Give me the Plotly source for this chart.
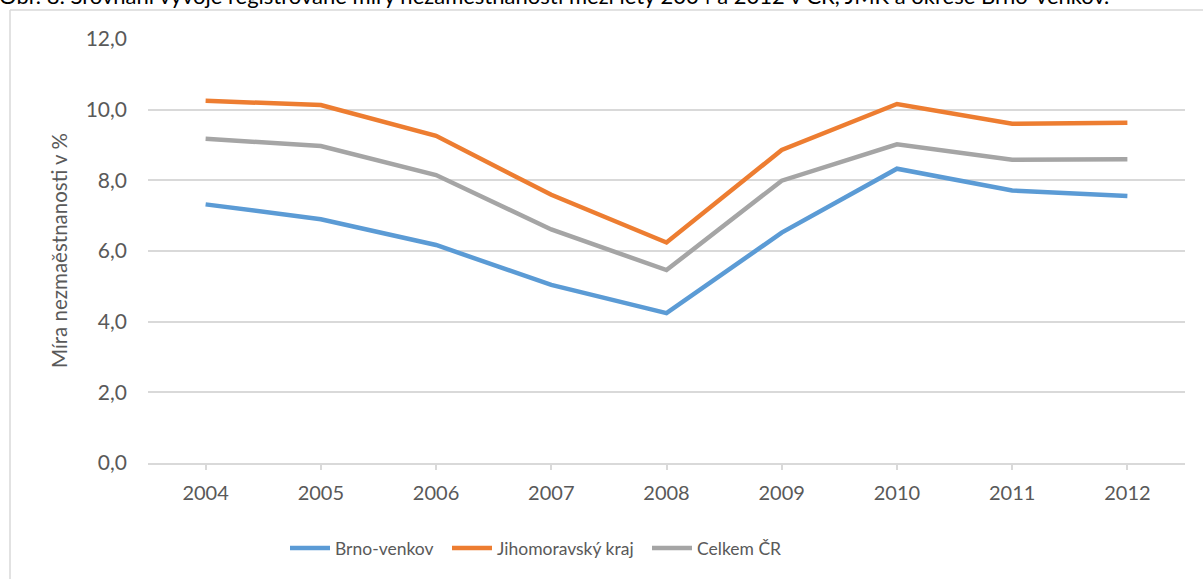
import plotly.graph_objects as go

years = ["2004", "2005", "2006", "2007", "2008", "2009", "2010", "2011", "2012"]
brno_venkov = [7.32, 6.90, 6.17, 5.04, 4.24, 6.52, 8.33, 7.71, 7.56]
jihomoravsky = [10.25, 10.13, 9.26, 7.59, 6.24, 8.86, 10.16, 9.60, 9.63]
celkem_cr = [9.18, 8.97, 8.15, 6.61, 5.46, 7.99, 9.02, 8.58, 8.60]

series_names = ["Brno-venkov", "Jihomoravský kraj", "Celkem ČR"]
colors = ["#5B9BD5", "#ED7D31", "#A5A5A5"]

title_text = ("Obr. 8: Srovnání vývoje registrované míry nezaměstnanosti mezi lety "
              "2004 a 2012 v ČR, JMK a okrese Brno-venkov.")
y_title = "Míra nezmaěstnanosti v %"

FONT = "Lato"
TXT = "#595959"
GRID = "#D9D9D9"

W, H = 1203, 579
L, R, T, B = 148, 18, 39, 116
pw, ph = W - L - R, H - T - B


def px_x(p):
    return (p - L) / pw


def px_y(p):
    return (H - B - p) / ph


legend_ids = ["legend", "legend2", "legend3"]
legend_x_px = [285, 447, 647]

fig = go.Figure()
for name, vals, col, lid in zip(series_names, [brno_venkov, jihomoravsky, celkem_cr],
                                colors, legend_ids):
    fig.add_trace(go.Scatter(x=years, y=vals, name=name, mode="lines",
                             line=dict(color=col, width=4.5), legend=lid))

legend_common = dict(orientation="h", y=px_y(548), xanchor="left", yanchor="middle",
                     font=dict(family=FONT, size=17.5, color=TXT), itemwidth=40,
                     bgcolor="rgba(0,0,0,0)")

fig.update_layout(
    width=W, height=H,
    margin=dict(l=L, r=R, t=T, b=B),
    paper_bgcolor="white", plot_bgcolor="white",
    separators=", ",
    font=dict(family=FONT, size=20, color=TXT),
    showlegend=True,
    legend=dict(x=px_x(legend_x_px[0]), **legend_common),
    legend2=dict(x=px_x(legend_x_px[1]), **legend_common),
    legend3=dict(x=px_x(legend_x_px[2]), **legend_common),
    xaxis=dict(type="category", range=[-0.5, 8.5], showgrid=False,
               showline=True, linecolor=GRID, linewidth=1.5,
               ticks="outside", ticklen=5, tickcolor=GRID, tickwidth=1.5,
               tickfont=dict(family=FONT, size=20, color=TXT),
               ticklabelstandoff=6, zeroline=False),
    yaxis=dict(range=[0, 12], dtick=2, tickformat=".1f", showgrid=True,
               gridcolor=GRID, gridwidth=1.5, showline=False, zeroline=False,
               ticks="", tickfont=dict(family=FONT, size=21, color=TXT),
               ticklabelstandoff=20),
)

fig.add_annotation(text=y_title, xref="paper", yref="paper", x=px_x(59), y=0.5,
                   textangle=-90, showarrow=False, xanchor="center", yanchor="middle",
                   font=dict(family=FONT, size=20.5, color=TXT))

fig.add_annotation(text=title_text, xref="paper", yref="paper", x=px_x(-3), y=1,
                   xanchor="left", yanchor="bottom", yshift=T - 11, showarrow=False,
                   font=dict(family=FONT, size=22, color="black"))

# chart border (left and top edges visible)
fig.add_shape(type="line", xref="paper", yref="paper", x0=px_x(10), x1=px_x(1300),
              y0=px_y(10), y1=px_y(10), line=dict(color=GRID, width=1.5))
fig.add_shape(type="line", xref="paper", yref="paper", x0=px_x(10), x1=px_x(10),
              y0=px_y(10), y1=px_y(700), line=dict(color=GRID, width=1.5))

fig.write_html("out.html", config={"displayModeBar": False},
               post_script="document.body.style.margin='0';")
